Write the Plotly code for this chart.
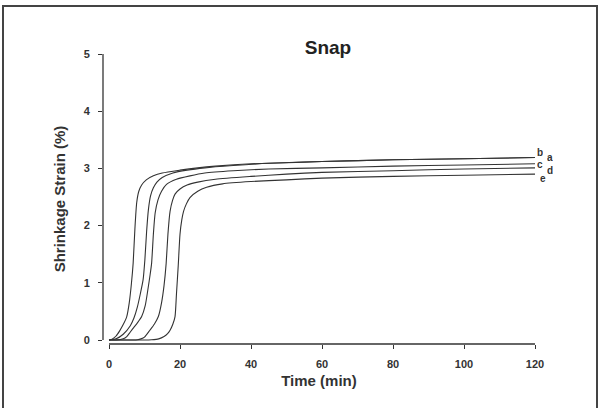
import plotly.graph_objects as go

# ---- data ----
series_names = ["a", "b", "c", "d", "e"]

t_a = [0, 1, 2, 3, 4, 5, 5.7, 6.3, 6.8, 7.3, 7.8, 8.4, 9.2, 10.5, 12.5, 15, 20, 25, 30, 40, 50, 60, 80, 100, 120]
v_a = [0, 0.02, 0.07, 0.16, 0.27, 0.41, 0.65, 0.98, 1.34, 1.95, 2.40, 2.60, 2.71, 2.80, 2.87, 2.92, 2.97, 3.01, 3.04, 3.08, 3.10, 3.12, 3.15, 3.17, 3.19]

t_b = [0, 2, 4, 6, 7, 8, 8.8, 9.6, 10.1, 10.6, 11.1, 11.7, 12.5, 13.5, 15, 18, 22, 27, 35, 45, 60, 80, 100, 120]
v_b = [0, 0.02, 0.10, 0.25, 0.38, 0.58, 0.80, 1.05, 1.40, 1.90, 2.28, 2.52, 2.66, 2.76, 2.84, 2.92, 2.97, 3.01, 3.05, 3.09, 3.12, 3.15, 3.17, 3.19]

t_c = [0, 2, 4, 5, 6, 7, 8, 9.2, 10.2, 11, 11.6, 12, 12.5, 13, 13.8, 14.8, 16.2, 19, 22.8, 27, 35, 45, 60, 80, 100, 120]
v_c = [0, 0, 0.02, 0.06, 0.14, 0.22, 0.30, 0.41, 0.60, 0.90, 1.15, 1.34, 1.85, 2.22, 2.45, 2.60, 2.72, 2.81, 2.87, 2.92, 2.96, 2.99, 3.01, 3.04, 3.06, 3.08]

t_d = [0, 4, 7, 8, 9, 10, 11.5, 12.8, 13.9, 14.8, 15.5, 16.1, 16.6, 17.2, 17.9, 18.6, 20, 22, 25, 30, 40, 50, 60, 80, 100, 120]
v_d = [0, 0, 0, 0.005, 0.02, 0.05, 0.17, 0.28, 0.41, 0.65, 0.95, 1.34, 1.85, 2.25, 2.44, 2.55, 2.64, 2.71, 2.76, 2.81, 2.86, 2.90, 2.93, 2.96, 2.99, 3.01]

t_e = [0, 5, 10, 12, 14, 15.5, 16.5, 17.2, 18, 18.6, 19.0, 19.5, 20.0, 20.5, 21.0, 21.8, 22.8, 25, 27.5, 32, 40, 50, 60, 80, 100, 120]
v_e = [0, 0, 0, 0.005, 0.02, 0.06, 0.11, 0.17, 0.28, 0.41, 0.80, 1.30, 1.85, 2.10, 2.25, 2.38, 2.49, 2.60, 2.67, 2.73, 2.77, 2.80, 2.83, 2.86, 2.88, 2.90]

x_ticks = [0, 20, 40, 60, 80, 100, 120]
y_ticks = [0, 1, 2, 3, 4, 5]

# end-of-curve labels: text, pixel x of centre, value on y axis
label_text = ["b", "a", "c", "d", "e"]
label_px = [540, 550, 540, 550, 543]
label_y = [3.27, 3.19, 3.06, 2.97, 2.82]

# ---- figure ----
W, H = 603, 408
L, R, T, B = 103, 535, 54, 344  # plot area pixels
FONT = "Liberation Sans, Arial"

fig = go.Figure()
for t, v, n in zip([t_a, t_b, t_c, t_d, t_e], [v_a, v_b, v_c, v_d, v_e], series_names):
    fig.add_trace(go.Scatter(x=t, y=v, mode="lines", name=n,
                             line=dict(color="#333333", width=1.1, shape="spline", smoothing=0.6),
                             showlegend=False, cliponaxis=False))

def px_x(p):
    return (p - L) / (R - L)

def px_y(p):
    return (B - p) / (B - T)

shapes = [
    dict(type="rect", xref="paper", yref="paper",
         x0=px_x(3), x1=px_x(597), y0=px_y(412), y1=px_y(6),
         line=dict(color="#444444", width=2), layer="below"),
    dict(type="line", xref="x", yref="paper", x0=0, x1=120, y0=0, y1=0,
         line=dict(color="#333333", width=1.3)),
    dict(type="line", xref="paper", yref="y", x0=0, x1=0, y0=0, y1=5,
         line=dict(color="#333333", width=1.3)),
]

annotations = [
    dict(x=px_x(p), y=y, text="<b>%s</b>" % s, xref="paper", yref="y", showarrow=False,
         font=dict(family=FONT, size=10, color="#333333"), height=9, borderpad=0,
         xanchor="center", yanchor="middle")
    for s, p, y in zip(label_text, label_px, label_y)
]

fig.update_layout(
    width=W, height=H,
    margin=dict(l=L, r=W - R, t=T, b=H - B, pad=0),
    paper_bgcolor="white", plot_bgcolor="white",
    title=dict(text="<b>Snap</b>", x=328 / W, xanchor="center",
               y=1 - 47 / H, yanchor="middle",
               font=dict(family=FONT, size=19, color="#222222")),
    xaxis=dict(range=[-(6 / 3.55), 120], tickvals=x_ticks,
               ticktext=["<b>%d</b>" % v for v in x_ticks],
               showgrid=False, zeroline=False, showline=False,
               ticks="outside", ticklen=4, tickwidth=1, tickcolor="#333333",
               ticklabelstandoff=6,
               tickfont=dict(family=FONT, size=11, color="#333333"),
               title=dict(text="<b>Time (min)</b>", standoff=6,
                          font=dict(family=FONT, size=15, color="#333333"))),
    yaxis=dict(range=[-(4 / 57.2), 5], tickvals=y_ticks,
               ticktext=["<b>%d</b>" % v for v in y_ticks],
               showgrid=False, zeroline=False, showline=False,
               ticks="outside", ticklen=4, tickwidth=1, tickcolor="#333333",
               ticklabelstandoff=6,
               tickfont=dict(family=FONT, size=11, color="#333333"),
               title=dict(text="<b>Shrinkage Strain (%)</b>", standoff=14,
                          font=dict(family=FONT, size=15, color="#333333"))),
    shapes=shapes,
    annotations=annotations,
)

fig.write_html("out.html")
